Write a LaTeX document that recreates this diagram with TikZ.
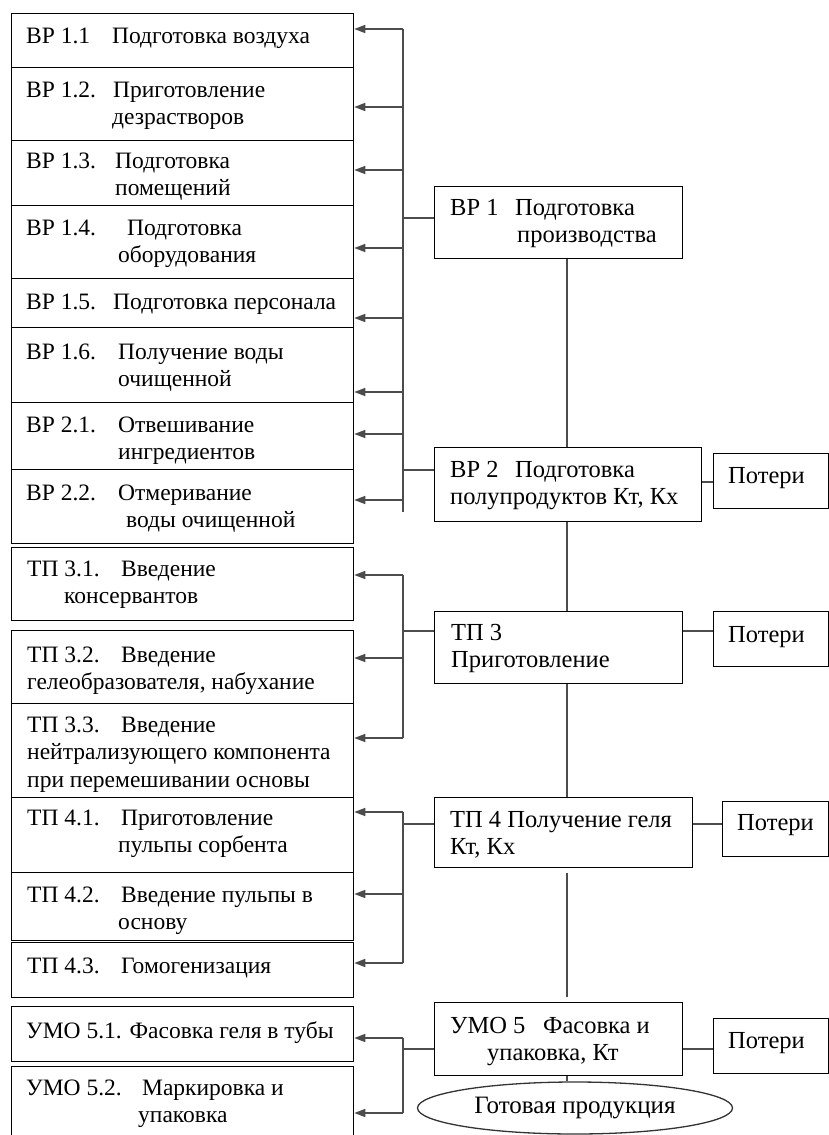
\documentclass[tikz,border=0pt]{standalone}
\usepackage{fontspec}
\setmainfont{Liberation Serif}
\usetikzlibrary{arrows.meta,shapes.geometric}
\newcommand\colw[2]{\makebox[#1pt][l]{#2}}
\newcommand\bx[5]{\node[boxst, minimum width=#4pt, minimum height=#5pt] (#1) at (#2,#3) {};}
\newcommand\tx[4]{\node[txt] (#1) at (#2,{#3-19.25}) {\strut #4};}
\newcommand\txr[4]{\node[txt, txtbig] (#1) at (#2,{#3-19.25}) {\strut #4};}
\begin{document}
\begin{tikzpicture}[x=1pt,y=-1pt,
  boxst/.style={draw=black, line width=1.3pt, inner sep=0pt, anchor=north west},
  txt/.style={inner sep=0pt, anchor=north west, align=left, font=\fontsize{23.5}{27.5}\selectfont},
  txtbig/.style={font=\fontsize{24.5}{27.5}\selectfont},
  conn/.style={draw=black!70, line width=1.6pt},
  arr/.style={conn, -{Triangle[length=11pt,width=8pt]}},
  ell/.style={draw=black!80, line width=1.3pt, ellipse, inner sep=0pt, font=\fontsize{25}{27.5}\selectfont}]
\fill[white] (0,0) rectangle (829,1135);
\useasboundingbox (0,0) rectangle (829,1135);
% left column boxes
\bx{b11}{11}{13}{342}{54}
\bx{b12}{11}{67}{342}{73}
\bx{b13}{11}{140}{342}{65}
\bx{b14}{11}{205}{342}{73}
\bx{b15}{11}{278}{342}{49}
\bx{b16}{11}{327}{342}{75}
\bx{b21}{11}{402}{342}{67}
\bx{b22}{11}{469}{342}{74}
\bx{t31}{11}{547}{342}{73}
\bx{t32}{11}{630}{342}{73}
\bx{t33}{11}{703}{342}{94}
\bx{t41}{11}{797}{342}{75}
\bx{t42}{11}{872}{342}{68}
\bx{t43}{11}{942}{342}{55}
\bx{u51}{11}{1006}{342}{55}
\bx{u52}{11}{1066}{342}{75}
% left texts
\tx{b11t}{26}{43}{\colw{86}{ВР 1.1}Подготовка воздуха}
\tx{b12t}{26}{97}{\colw{87}{ВР 1.2.}Приготовление\\\hspace*{86pt}дезрастворов}
\tx{b13t}{26}{168}{\colw{89}{ВР 1.3.}Подготовка\\\hspace*{89pt}помещений}
\tx{b14t}{26}{235}{\colw{101}{ВР 1.4.}Подготовка\\\hspace*{92pt}оборудования}
\tx{b15t}{26}{309}{\colw{87}{ВР 1.5.}Подготовка персонала}
\tx{b16t}{26}{359}{\colw{92}{ВР 1.6.}Получение воды\\\hspace*{92pt}очищенной}
\tx{b21t}{26}{432}{\colw{92}{ВР 2.1.}Отвешивание\\\hspace*{92pt}ингредиентов}
\tx{b22t}{26}{500}{\colw{92}{ВР 2.2.}Отмеривание\\\hspace*{100pt}воды очищенной}
\tx{t31t}{27}{576}{\colw{94}{ТП 3.1.}Введение\\\hspace*{37pt}консервантов}
\tx{t32t}{27}{662}{\colw{94}{ТП 3.2.}Введение\\гелеобразователя, набухание}
\tx{t33t}{27}{732}{\colw{94}{ТП 3.3.}Введение\\нейтрализующего компонента\\при перемешивании основы}
\tx{t41t}{27}{825}{\colw{94}{ТП 4.1.}Приготовление\\\hspace*{91pt}пульпы сорбента}
\tx{t42t}{27}{902}{\colw{94}{ТП 4.2.}Введение пульпы в\\\hspace*{91pt}основу}
\tx{t43t}{27}{973}{\colw{94}{ТП 4.3.}Гомогенизация}
\tx{u51t}{26}{1038}{УМО 5.1. Фасовка геля в тубы}
\tx{u52t}{26}{1095}{\colw{116}{УМО 5.2.}Маркировка и\\\hspace*{112pt}упаковка}
% right column boxes
\bx{bp1}{434}{186}{248}{72}
\bx{bp2}{434}{447}{267}{74}
\bx{tp3}{434}{611}{248}{72}
\bx{tp4}{434}{797}{258}{70}
\bx{umo5}{434}{1002}{248}{73}
\bx{p1}{713}{453}{115}{55}
\bx{p2}{713}{611}{115}{55}
\bx{p3}{722}{801}{106}{55}
\bx{p4}{713}{1018}{115}{55}
\node[ell, minimum width=315pt, minimum height=52pt] (gp) at (575,1108) {Готовая продукция};
% right texts
\txr{bp1t}{450}{215}{\colw{65}{ВР 1}Подготовка\\\hspace*{67pt}производства}
\txr{bp2t}{450}{477}{\colw{65}{ВР 2}Подготовка\\полупродуктов Кт, Кх}
\txr{tp3t}{451}{640}{ТП 3\\Приготовление}
\txr{tp4t}{450}{827}{ТП 4 Получение геля\\Кт, Кх}
\txr{umo5t}{450}{1033}{\colw{93}{УМО 5}Фасовка и\\\hspace*{37pt}упаковка, Кт}
\txr{p1t}{728}{483}{Потери}
\txr{p2t}{728}{642}{Потери}
\txr{p3t}{737}{830}{Потери}
\txr{p4t}{728}{1048}{Потери}
% bus coordinates
\coordinate (a1) at (403,29);
\coordinate (a2) at (403,107);
\coordinate (a3) at (403,170);
\coordinate (a4) at (403,248);
\coordinate (a5) at (403,318);
\coordinate (a6) at (403,392);
\coordinate (a7) at (403,434);
\coordinate (a8) at (403,500);
\coordinate (e1) at (403,512);
\coordinate (k1) at (403,218);
\coordinate (k2) at (403,470);
\coordinate (c1) at (403,575);
\coordinate (c2) at (403,658);
\coordinate (c3) at (403,738);
\coordinate (k3) at (403,631);
\coordinate (d1) at (403,812);
\coordinate (d2) at (403,894);
\coordinate (d3) at (403,963);
\coordinate (k4) at (403,824);
\coordinate (f1) at (403,1038);
\coordinate (f2) at (403,1113);
\coordinate (k5) at (403,1049);
\coordinate (r1) at (0,482);
\coordinate (v) at (567,0);
% buses
\draw[conn] (a1) -- (e1);
\draw[conn] (c1) -- (c3);
\draw[conn] (d1) -- (d3);
\draw[conn] (f1) -- (f2);
% arrows to left boxes
\draw[arr] (a1) -- (a1 -| b11.east);
\draw[arr] (a2) -- (a2 -| b12.east);
\draw[arr] (a3) -- (a3 -| b13.east);
\draw[arr] (a4) -- (a4 -| b14.east);
\draw[arr] (a5) -- (a5 -| b15.east);
\draw[arr] (a6) -- (a6 -| b16.east);
\draw[arr] (a7) -- (a7 -| b21.east);
\draw[arr] (a8) -- (a8 -| b22.east);
\draw[arr] (c1) -- (c1 -| t31.east);
\draw[arr] (c2) -- (c2 -| t32.east);
\draw[arr] (c3) -- (c3 -| t33.east);
\draw[arr] (d1) -- (d1 -| t41.east);
\draw[arr] (d2) -- (d2 -| t42.east);
\draw[arr] (d3) -- (d3 -| t43.east);
\draw[arr] (f1) -- (f1 -| u51.east);
\draw[arr] (f2) -- (f2 -| u52.east);
% links from right boxes to buses
\draw[conn] (k1 -| bp1.west) -- (k1);
\draw[conn] (k2 -| bp2.west) -- (k2);
\draw[conn] (k3 -| tp3.west) -- (k3);
\draw[conn] (k4 -| tp4.west) -- (k4);
\draw[conn] (k5 -| umo5.west) -- (k5);
% losses links
\draw[conn] (r1 -| bp2.east) -- (r1 -| p1.west);
\draw[conn] (k3 -| tp3.east) -- (k3 -| p2.west);
\draw[conn] (k4 -| tp4.east) -- (k4 -| p3.west);
\draw[conn] (k5 -| umo5.east) -- (k5 -| p4.west);
% main vertical chain
\draw[conn] (v |- bp1.south) -- (v |- bp2.north);
\draw[conn] (v |- bp2.south) -- (v |- tp3.north);
\draw[conn] (v |- tp3.south) -- (v |- tp4.north);
\draw[conn, shorten <=5pt, shorten >=5pt] (v |- tp4.south) -- (v |- umo5.north);
\draw[conn] (v |- umo5.south) -- (v |- gp.north);
\end{tikzpicture}
\end{document}
